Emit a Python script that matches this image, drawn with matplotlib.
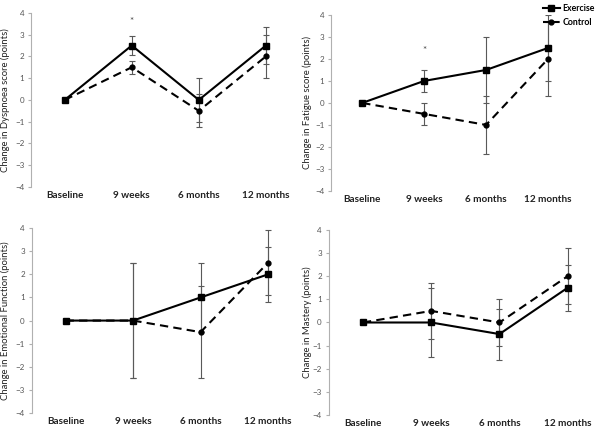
import numpy as np
import matplotlib
matplotlib.use("Agg")
import matplotlib.pyplot as plt
from matplotlib.lines import Line2D
from matplotlib.transforms import blended_transform_factory

plt.rcParams["font.family"] = ["Lato", "DejaVu Sans"]

timepoints = ["Baseline", "9 weeks", "6 months", "12 months"]

# Dyspnoea
dysp_ex = [0, 2.5, 0, 2.5]
dysp_ex_err = [0, 0.45, 1.0, 0.85]
dysp_ct = [0, 1.5, -0.5, 2.0]
dysp_ct_err = [0, 0.3, 0.75, 1.0]

# Fatigue
fat_ex = [0, 1.0, 1.5, 2.5]
fat_ex_err = [0, 0.5, 1.5, 1.5]
fat_ct = [0, -0.5, -1.0, 2.0]
fat_ct_err = [0, 0.5, 1.3, 1.7]

# Emotional function
emo_ex = [0, 0, 1.0, 2.0]
emo_ex_err = [0, 2.5, 1.5, 1.2]
emo_ct = [0, 0, -0.5, 2.5]
emo_ct_err = [0, 2.5, 2.0, 1.4]

# Mastery
mas_ex = [0, 0, -0.5, 1.5]
mas_ex_err = [0, 1.5, 1.1, 1.0]
mas_ct = [0, 0.5, 0, 2.0]
mas_ct_err = [0, 1.2, 1.0, 1.2]

panels = [
    ("Change in Dyspnoea score (points)", dysp_ex, dysp_ex_err, dysp_ct, dysp_ct_err, [(1, 3.6)]),
    ("Change in Fatigue score (points)", fat_ex, fat_ex_err, fat_ct, fat_ct_err, [(1, 2.4)]),
    ("Change in Emotional Function (points)", emo_ex, emo_ex_err, emo_ct, emo_ct_err, []),
    ("Change in Mastery (points)", mas_ex, mas_ex_err, mas_ct, mas_ct_err, []),
]

# axes rectangles in figure fractions (left, bottom, width, height)
rects = [
    [0.052, 0.563, 0.447, 0.407],
    [0.552, 0.554, 0.413, 0.411],
    [0.053, 0.035, 0.450, 0.432],
    [0.548, 0.030, 0.455, 0.433],
]
ylabel_x = [5 / 600, 307 / 600, 5 / 600, 307 / 600]

fig = plt.figure(figsize=(6, 4.28), dpi=100)
x = np.arange(len(timepoints))
axis_gray = "#b0b0b0"
err_gray = "#595959"

for (ylabel, ex, ex_err, ct, ct_err, stars), rect, lx in zip(panels, rects, ylabel_x):
    ax = fig.add_axes(rect)
    ax.errorbar(x, ct, yerr=ct_err, color="black", linestyle=(0, (4, 2.5)), lw=1.5,
                marker="o", markersize=3.5, ecolor=err_gray, elinewidth=0.8,
                capsize=2, capthick=0.8)
    ax.errorbar(x, ex, yerr=ex_err, color="black", linestyle="-", lw=1.5,
                marker="s", markersize=4, ecolor=err_gray, elinewidth=0.8,
                capsize=2, capthick=0.8)
    for sx, sy in stars:
        ax.text(sx, sy, "*", ha="center", va="center", fontsize=7, color="#444444")
    ax.set_xlim(-0.5, 3.5)
    ax.set_ylim(-4, 4)
    ax.set_yticks(range(-4, 5))
    ax.set_xticks(x)
    ax.set_xticklabels(timepoints, fontsize=7.2, fontweight="bold", color="#222222")
    ax.tick_params(axis="x", length=0, pad=3)
    ax.tick_params(axis="y", labelsize=5.8, labelcolor="#555555", color=axis_gray,
                   length=2.5, width=0.8, pad=2.5)
    for side in ["top", "right", "bottom"]:
        ax.spines[side].set_visible(False)
    ax.spines["left"].set_color(axis_gray)
    ax.spines["left"].set_linewidth(0.8)
    ax.set_ylabel(ylabel, fontsize=6.8, color="#222222", va="center")
    ax.yaxis.set_label_coords(lx, 0.5,
                              transform=blended_transform_factory(fig.transFigure, ax.transAxes))

handles = [
    Line2D([], [], color="black", lw=1.5, marker="s", markersize=4),
    Line2D([], [], color="black", lw=1.5, linestyle=(0, (3, 2)), marker="o", markersize=3.5),
]
fig.legend(handles, ["Exercise", "Control"], loc="upper right", bbox_to_anchor=(1.005, 1.01),
           frameon=False, prop={"size": 6.3, "weight": "bold"}, handlelength=2.0,
           handletextpad=0.3, labelspacing=0.6)

fig.savefig("out.png", dpi=100)
